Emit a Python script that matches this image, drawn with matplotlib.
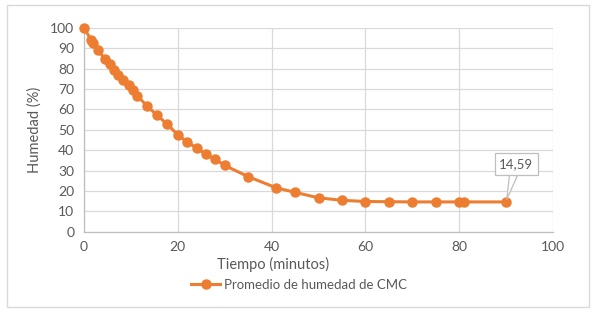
import matplotlib
matplotlib.use("Agg")
import matplotlib.pyplot as plt
from matplotlib.lines import Line2D
from matplotlib.patches import Rectangle

tiempo = [0, 1.5, 2, 3, 4.5, 5.5, 6.5, 7.3, 8.4, 9.5, 10.5, 11.4, 13.5, 15.6, 17.6,
          20, 22, 24, 26, 28, 30, 35, 41, 45, 50, 55, 60, 65, 70, 75, 80, 81, 90]
humedad = [100, 94, 92.5, 89, 84.5, 82, 79.5, 77, 74.5, 72, 69.5, 66.5, 61.5, 57, 53,
           47.5, 44, 41, 38, 35.5, 32.5, 27, 21.5, 19.3, 16.6, 15.4, 14.8, 14.7, 14.6,
           14.6, 14.6, 14.6, 14.59]
x_ticks = [0, 20, 40, 60, 80, 100]
y_ticks = [0, 10, 20, 30, 40, 50, 60, 70, 80, 90, 100]
serie = "Promedio de humedad de CMC"
etiqueta = "14,59"

plt.rcParams['font.family'] = ['Lato', 'DejaVu Sans']
orange = "#ED7D31"
grey_txt = "#595959"

fig = plt.figure(figsize=(5.94, 3.13), dpi=100)
ax = fig.add_axes([84/594, 1-231.7/313, (553-84)/594, (231.7-27.7)/313])

ax.plot(tiempo, humedad, color=orange, lw=2.2, marker='o', ms=6.5, zorder=3, clip_on=False)
ax.set_xlim(0, 100)
ax.set_ylim(0, 100)
ax.set_xticks(x_ticks)
ax.set_yticks(y_ticks)
ax.grid(True, color="#d9d9d9", lw=0.9)
ax.set_axisbelow(True)
for s in ['top', 'right']:
    ax.spines[s].set_visible(False)
for s in ['left', 'bottom']:
    ax.spines[s].set_color("#bfbfbf")
    ax.spines[s].set_linewidth(0.9)
ax.tick_params(length=0, labelsize=10, labelcolor=grey_txt, pad=7)
ax.set_xlabel("Tiempo (minutos)", fontsize=10.5, color=grey_txt, labelpad=4)
ax.xaxis.set_label_coords((273-84)/469, -0.125)
ax.xaxis.label.set_va('top')
ax.set_ylabel("Humedad (%)", fontsize=10.5, color=grey_txt, labelpad=6)

ax.annotate(etiqueta, xy=(tiempo[-1], humedad[-1]), xytext=(92.2, 33.2),
            ha='center', va='center', fontsize=9.5, color=grey_txt,
            bbox=dict(boxstyle="square,pad=0.35", fc="white", ec="#bfbfbf", lw=0.9),
            arrowprops=dict(arrowstyle="wedge,tail_width=0.6,shrink_factor=0.5",
                            fc="white", ec="#bfbfbf", lw=0.9, shrinkA=0, shrinkB=2),
            zorder=5)

handle = Line2D([], [], color=orange, lw=2.2, marker='o', ms=6.5)
fig.legend([handle], [serie], loc='center', bbox_to_anchor=(299/594, 1-285/313),
           frameon=False, fontsize=9.5, labelcolor=grey_txt, handlelength=2.2,
           handletextpad=0.3)

fig.patches.append(Rectangle((7/594, 1-307/313), (589-7)/594, (307-5)/313,
                             transform=fig.transFigure, fill=False, ec="#d9d9d9", lw=1))

fig.savefig("out.png", dpi=100, facecolor="white")
